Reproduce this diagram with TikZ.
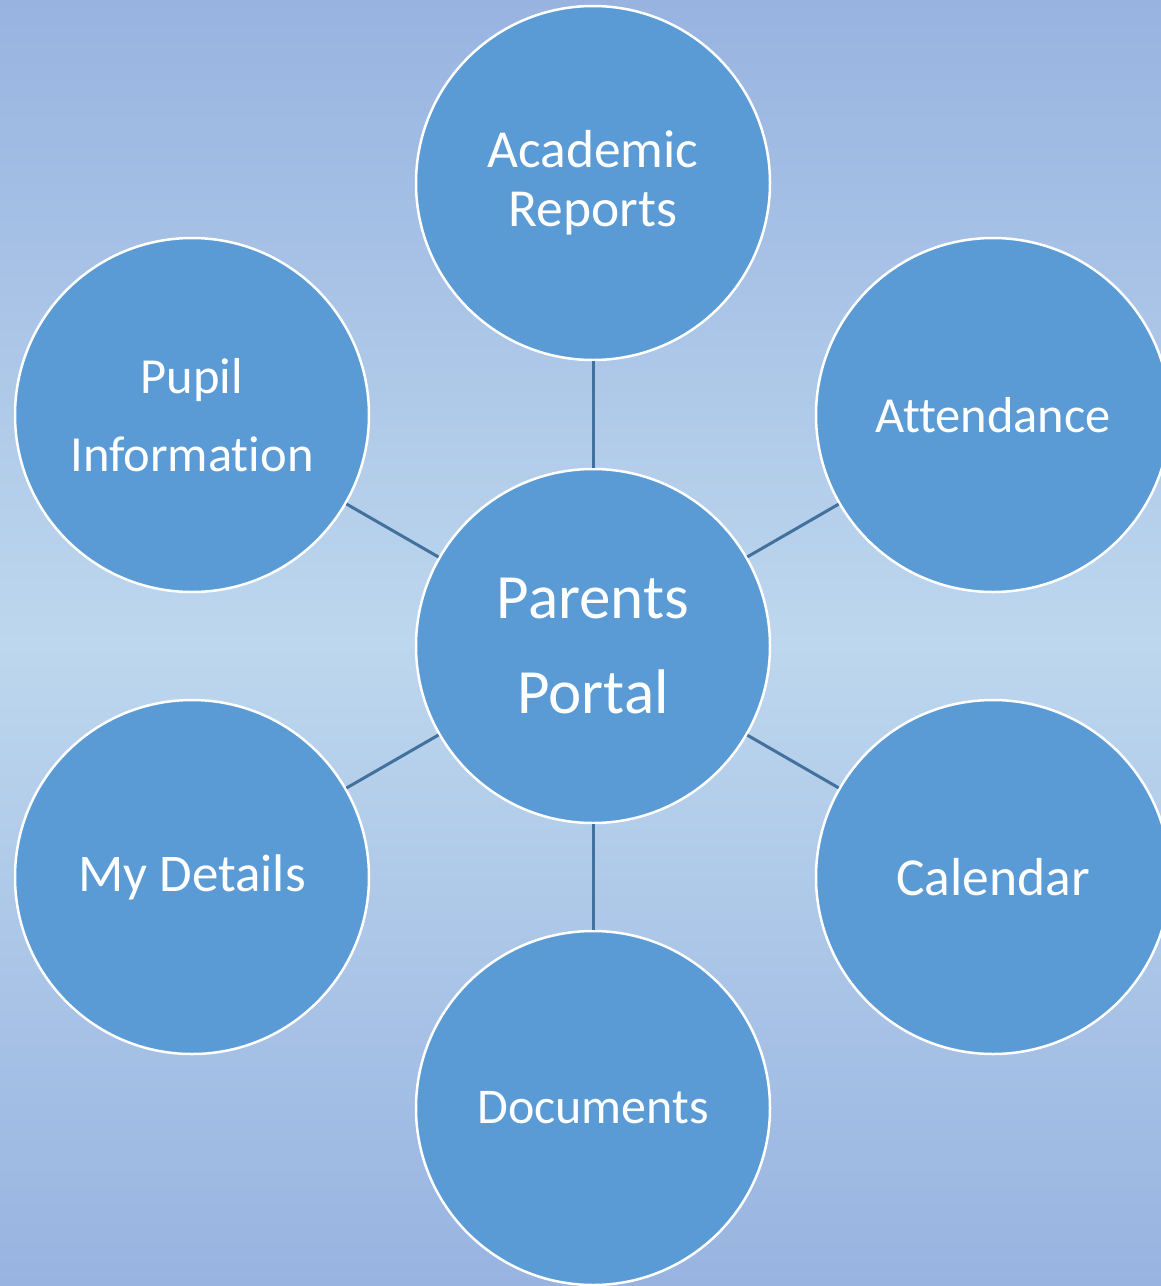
\documentclass[tikz,border=0pt]{standalone}
\usepackage{fontspec}
\setmainfont{Carlito}[Ligatures=NoCommon]
\definecolor{bgtop}{RGB}{152,179,224}
\definecolor{bgmid}{RGB}{189,215,238}
\definecolor{fillc}{RGB}{91,155,213}
\definecolor{linec}{RGB}{65,113,156}
\newcommand{\fs}[2]{\fontsize{#1}{#2}\selectfont}
\begin{document}
\begin{tikzpicture}[x=1pt,y=-1pt,
  bubble/.style={circle, fill=fillc, draw=white, line width=2.5pt,
    minimum size=354pt, inner sep=0pt, text=white, align=center,
    font=\fs{50}{59}},
  link/.style={draw=linec, line width=3pt}]
\useasboundingbox (0,0) rectangle (1161,1286);
\clip (0,0) rectangle (1161,1286);
\shade[top color=bgtop, bottom color=bgtop, middle color=bgmid] (0,0) rectangle (1161,1286);
\node[bubble, font=\fs{63}{95}] (c) at (593,646) {Parents\\Portal};
\node[bubble, font=\fs{53.5}{59}] (ar) at (593,183) {Academic\\Reports};
\node[bubble, font=\fs{50.5}{78}] (pi) at (192,415) {Pupil\\Information};
\node[bubble, font=\fs{50.5}{59}] (at) at (993,415) {Attendance};
\node[bubble, font=\fs{53}{59}] (md) at (192,877) {My Details};
\node[bubble, font=\fs{53.5}{59}] (ca) at (993,877) {Calendar};
\node[bubble, font=\fs{50}{59}] (dc) at (593,1108) {Documents};
\foreach \n in {ar,pi,at,md,ca,dc} \draw[link] (c) -- (\n);
\end{tikzpicture}
\end{document}
